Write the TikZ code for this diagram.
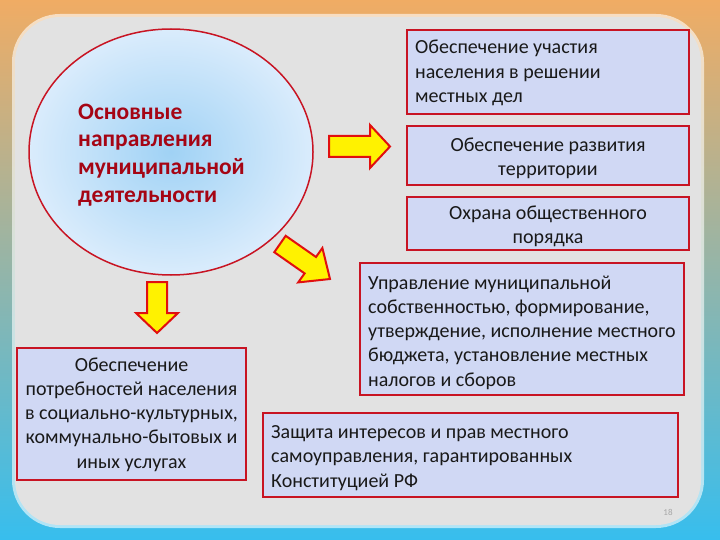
\documentclass[tikz,border=0pt]{standalone}
\usepackage{fontspec}
\setmainfont{Carlito}
\usetikzlibrary{shapes.geometric}
\definecolor{bordred}{RGB}{200,20,35}
\definecolor{boxfill}{RGB}{208,216,244}
\definecolor{titlered}{RGB}{165,5,20}
\definecolor{panelgray}{RGB}{226,226,226}
\definecolor{arrowred}{RGB}{225,15,15}
\begin{document}
\begin{tikzpicture}[x=1pt,y=-1pt,
  box/.style={draw=bordred, line width=2pt, fill=boxfill, inner sep=0pt},
  boxtext/.style={inner sep=0pt, font=\fontsize{20}{24.3}\selectfont, text=black!90},
  blockarrow/.style={draw=arrowred, line width=2pt, fill=yellow, line join=miter}]
\useasboundingbox (0,0) rectangle (720,540);
% background
\shade[top color={rgb,255:red,240;green,172;blue,100}, middle color={rgb,255:red,160;green,175;blue,205}, bottom color={rgb,255:red,55;green,190;blue,238}] (0,0) rectangle (720,540);
% panel
\fill[white, opacity=0.6, rounded corners=48pt] (12,14) rectangle (704,528);
\fill[panelgray, rounded corners=45pt] (15,17) rectangle (701,525);
% circle
\node[ellipse, draw=bordred, line width=1.5pt, inner color={rgb,255:red,160;green,210;blue,245}, outer color={rgb,255:red,218;green,236;blue,252}, minimum width=284pt, minimum height=246pt] (circ) at (171,152) {};
\node[anchor=west, align=left, inner sep=0pt, text=titlered, font=\bfseries\fontsize{23.5}{27.8}\selectfont] (title) at (78,155) {Основные\\направления\\муниципальной\\деятельности};
% boxes
\node[box, minimum width=282pt, minimum height=84pt] (b1) at (548,72) {};
\node[box, minimum width=282pt, minimum height=59pt] (b2) at (548,155.5) {};
\node[box, minimum width=282pt, minimum height=53pt] (b3) at (548,223.5) {};
\node[box, minimum width=324pt, minimum height=132pt] (b4) at (522,329) {};
\node[box, minimum width=415pt, minimum height=84pt] (b5) at (470.5,455) {};
\node[box, minimum width=229pt, minimum height=132pt] (b6) at (131.5,414) {};
% box texts
\node[boxtext, anchor=west, align=left] (t1) at (415,73) {Обеспечение участия\\населения в решении\\местных дел};
\node[boxtext, align=center] (t2) at (548,158) {Обеспечение развития\\территории};
\node[boxtext, align=center] (t3) at (548,226) {Охрана общественного\\порядка};
\node[boxtext, anchor=west, align=left] (t4) at (368,332.5) {Управление муниципальной\\собственностью, формирование,\\утверждение, исполнение местного\\бюджета, установление местных\\налогов и сборов};
\node[boxtext, anchor=west, align=left] (t5) at (271,458) {Защита интересов и прав местного\\самоуправления, гарантированных\\Конституцией РФ};
\node[boxtext, align=center] (t6) at (131.5,414.5) {Обеспечение\\потребностей населения\\в социально-культурных,\\коммунально-бытовых и\\иных услугах};
% arrows
\draw[blockarrow] (329,136) -- (370,136) -- (370,125) -- (390,146.5) -- (370,168) -- (370,157) -- (329,157) -- cycle;
\draw[blockarrow] (147,282) -- (167,282) -- (167,313) -- (178,313) -- (157,333) -- (136,313) -- (147,313) -- cycle;
\draw[blockarrow] (285.7,235.8) -- (316.0,257.0) -- (322.4,248.0) -- (330,279) -- (298.2,282.4) -- (304.6,273.4) -- (274.3,252.2) -- cycle;
% slide number
\node[text=black!35, font=\fontsize{9}{10}\selectfont] (num) at (668,512) {18};
\end{tikzpicture}
\end{document}
